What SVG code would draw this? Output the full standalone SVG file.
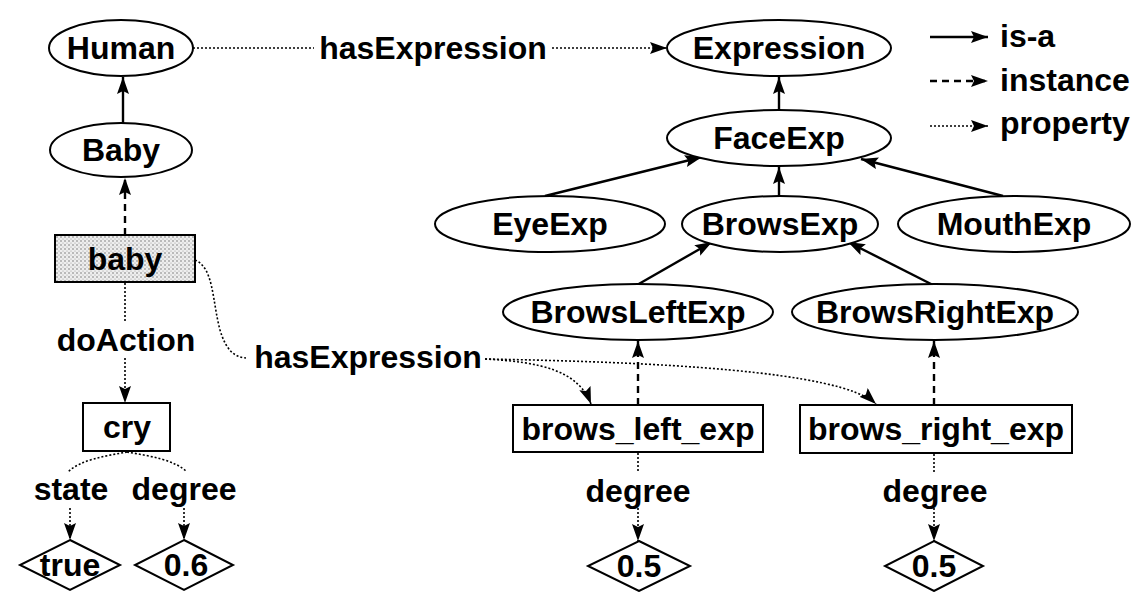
<svg xmlns="http://www.w3.org/2000/svg" width="1136" height="592" viewBox="0 0 1136 592">
  <style>
    .lbl { font-family: "Liberation Sans", Arial, sans-serif; font-weight: bold; font-size: 32px; fill: #000; text-anchor: middle; }
    .lgd { font-family: "Liberation Sans", Arial, sans-serif; font-weight: bold; font-size: 32px; fill: #000; }
    .cls { fill: #fff; stroke: #000; stroke-width: 2; }
    .inst { fill: #fff; stroke: #000; stroke-width: 2; }
    .val { fill: #fff; stroke: #000; stroke-width: 2; }
    .isa { fill: none; stroke: #000; stroke-width: 2.4; marker-end: url(#ah); }
    .ins { fill: none; stroke: #000; stroke-width: 2.4; stroke-dasharray: 7 5; marker-end: url(#ah); }
    .prop { fill: none; stroke: #000; stroke-width: 1.6; stroke-dasharray: 2 2; }
    .propa { fill: none; stroke: #000; stroke-width: 1.6; stroke-dasharray: 2 2; marker-end: url(#ah); }
  </style>
  <defs>
    <marker id="ah" viewBox="0 0 17 12" refX="17" refY="6" markerWidth="17" markerHeight="12" markerUnits="userSpaceOnUse" orient="auto">
      <path d="M0,0 L17,6 L0,12 L3,6 z" fill="#000"/>
    </marker>
    <pattern id="stipple" width="4" height="4" patternUnits="userSpaceOnUse">
      <rect width="4" height="4" fill="#eeeeee"/>
      <circle cx="1" cy="1" r="0.8" fill="#777"/>
      <circle cx="3" cy="3" r="0.6" fill="#999"/>
    </pattern>
  </defs>

  <rect width="1136" height="592" fill="#fff"/>

  <!-- connectors -->
  <g id="connectors">
    <!-- is-a -->
    <line class="isa" x1="123" y1="124" x2="123" y2="77"/>
    <line class="isa" x1="779" y1="110" x2="779" y2="77"/>
    <line class="isa" x1="545" y1="196" x2="702" y2="157"/>
    <line class="isa" x1="779" y1="196" x2="779" y2="167"/>
    <line class="isa" x1="1003" y1="196" x2="861" y2="159"/>
    <line class="isa" x1="637" y1="285" x2="712" y2="242"/>
    <line class="isa" x1="933" y1="285" x2="848" y2="242"/>
    <!-- instance -->
    <line class="ins" x1="125" y1="235" x2="125" y2="178"/>
    <line class="ins" x1="638" y1="405" x2="638" y2="341"/>
    <line class="ins" x1="934" y1="405" x2="934" y2="341"/>
    <!-- property: Human hasExpression Expression -->
    <line class="prop" x1="193" y1="48" x2="314" y2="48"/>
    <line class="propa" x1="552" y1="48" x2="667" y2="48"/>
    <!-- property: baby doAction cry -->
    <line class="prop" x1="125" y1="283" x2="125" y2="322"/>
    <line class="propa" x1="125" y1="358" x2="125" y2="403"/>
    <!-- property: cry state / degree -->
    <path class="prop" d="M127,452 C105,456 80,460 68,472"/>
    <path class="prop" d="M127,452 C150,456 175,460 187,472"/>
    <line class="propa" x1="70" y1="508" x2="70" y2="540"/>
    <line class="propa" x1="184" y1="508" x2="184" y2="540"/>
    <!-- property: baby hasExpression brows_*_exp -->
    <path class="prop" d="M195,260 C214,268 212,300 220,330 C226,350 234,357 246,358"/>
    <path class="propa" d="M485,359 C540,362 578,370 591,404"/>
    <path class="propa" d="M485,359 C650,362 840,370 876,404"/>
    <!-- property: brows_*_exp degree values -->
    <line class="prop" x1="638" y1="453" x2="638" y2="472"/>
    <line class="propa" x1="638" y1="508" x2="638" y2="541"/>
    <line class="prop" x1="934" y1="454" x2="934" y2="472"/>
    <line class="propa" x1="934" y1="508" x2="934" y2="541"/>
  </g>

  <!-- edge labels -->
  <g id="edge-labels">
    <text class="lbl" x="433" y="59">hasExpression</text>
    <text class="lbl" x="126" y="351">doAction</text>
    <text class="lbl" x="368" y="368">hasExpression</text>
    <text class="lbl" x="71" y="500">state</text>
    <text class="lbl" x="184" y="500">degree</text>
    <text class="lbl" x="638" y="502">degree</text>
    <text class="lbl" x="935" y="502">degree</text>
  </g>

  <!-- classes -->
  <g id="Human"><ellipse class="cls" cx="121" cy="48" rx="72" ry="28"/><text class="lbl" x="121" y="59">Human</text></g>
  <g id="Baby"><ellipse class="cls" cx="121" cy="150" rx="71" ry="27"/><text class="lbl" x="121" y="161">Baby</text></g>
  <g id="Expression"><ellipse class="cls" cx="779" cy="48" rx="112" ry="28"/><text class="lbl" x="779" y="59">Expression</text></g>
  <g id="FaceExp"><ellipse class="cls" cx="779" cy="138" rx="112" ry="28"/><text class="lbl" x="779" y="149">FaceExp</text></g>
  <g id="EyeExp"><ellipse class="cls" cx="550" cy="224" rx="115" ry="28"/><text class="lbl" x="550" y="235">EyeExp</text></g>
  <g id="BrowsExp"><ellipse class="cls" cx="780" cy="224" rx="98" ry="28"/><text class="lbl" x="780" y="235">BrowsExp</text></g>
  <g id="MouthExp"><ellipse class="cls" cx="1014" cy="224" rx="116" ry="28"/><text class="lbl" x="1014" y="235">MouthExp</text></g>
  <g id="BrowsLeftExp"><ellipse class="cls" cx="638" cy="312" rx="135" ry="28"/><text class="lbl" x="638" y="323">BrowsLeftExp</text></g>
  <g id="BrowsRightExp"><ellipse class="cls" cx="935" cy="312" rx="143" ry="28"/><text class="lbl" x="935" y="323">BrowsRightExp</text></g>

  <!-- instances -->
  <g id="baby"><rect class="inst" x="55" y="235" width="140" height="47" style="fill:url(#stipple)"/><text class="lbl" x="125" y="270">baby</text></g>
  <g id="cry"><rect class="inst" x="83" y="403" width="87" height="48"/><text class="lbl" x="127" y="438">cry</text></g>
  <g id="brows_left_exp"><rect class="inst" x="513" y="405" width="250" height="47"/><text class="lbl" x="638" y="440">brows_left_exp</text></g>
  <g id="brows_right_exp"><rect class="inst" x="800" y="405" width="272" height="48"/><text class="lbl" x="936" y="440">brows_right_exp</text></g>

  <!-- values -->
  <g id="true"><polygon class="val" points="70,540 120,565 70,590 20,565"/><text class="lbl" x="70" y="576">true</text></g>
  <g id="v06"><polygon class="val" points="184,540 233,565 184,590 135,565"/><text class="lbl" x="186" y="576">0.6</text></g>
  <g id="v05a"><polygon class="val" points="639,541 690,566 639,591 588,566"/><text class="lbl" x="639" y="577">0.5</text></g>
  <g id="v05b"><polygon class="val" points="934,541 983,566 934,591 885,566"/><text class="lbl" x="934" y="577">0.5</text></g>

  <!-- legend -->
  <g id="legend">
    <line class="isa" x1="930" y1="37" x2="988" y2="37"/>
    <text class="lgd" x="1000" y="47">is-a</text>
    <line class="ins" x1="930" y1="81" x2="988" y2="81"/>
    <text class="lgd" x="1000" y="91">instance</text>
    <line class="propa" x1="930" y1="126" x2="988" y2="126"/>
    <text class="lgd" x="1000" y="134">property</text>
  </g>
</svg>
